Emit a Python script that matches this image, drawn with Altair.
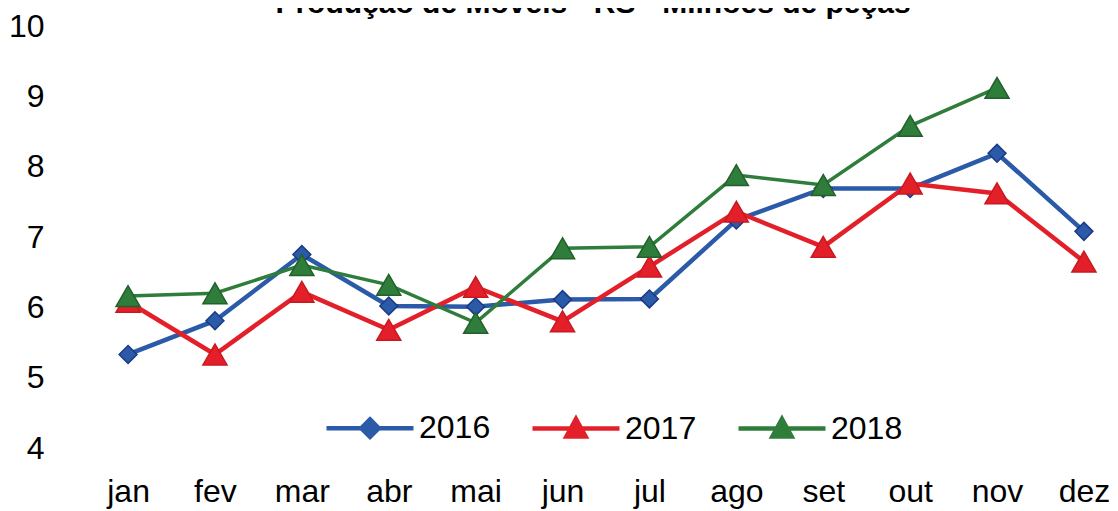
import altair as alt
import pandas as pd

months = ["jan", "fev", "mar", "abr", "mai", "jun", "jul", "ago", "set", "out", "nov", "dez"]
years = ["2016", "2017", "2018"]
v2016 = [5.33, 5.81, 6.75, 6.02, 6.01, 6.11, 6.12, 7.24, 7.69, 7.69, 8.19, 7.08]
v2017 = [6.08, 5.33, 6.22, 5.68, 6.29, 5.80, 6.58, 7.36, 6.86, 7.76, 7.62, 6.65]
v2018 = [6.16, 6.20, 6.60, 6.32, 5.78, 6.84, 6.86, 7.88, 7.74, 8.58, 9.12, None]
y_ticks = [4, 5, 6, 7, 8, 9, 10]
title_text = "Produção de Móveis - RS - Milhões de peças"

colors = ["#2a5aa8", "#e3202a", "#2e7d3a"]
edge = ["#1c3a84", "#c81820", "#23602c"]
widths = [4.5, 4.5, 3.5]
shapes = ["diamond", "triangle-up", "triangle-up"]
sizes = [320, 580, 580]

rows = []
for yr, vals in zip(years, [v2016, v2017, v2018]):
    for m, v in zip(months, vals):
        if v is not None:
            rows.append({"mes": m, "ano": yr, "valor": v})
df = pd.DataFrame(rows)

FONT = "Liberation Sans"

x_enc = alt.X("mes:N", sort=months, title=None,
              scale=alt.Scale(type="point", padding=0.3),
              axis=alt.Axis(labelAngle=0, domain=False, ticks=False, tickSize=0, grid=False,
                            labelFont=FONT, labelFontSize=32, labelColor="#000000",
                            labelPadding=53, labelBaseline="alphabetic"))
y_enc = alt.Y("valor:Q", title=None,
              scale=alt.Scale(domain=[4, 10], nice=False, zero=False),
              axis=alt.Axis(values=y_ticks, domain=False, ticks=False, tickSize=0, grid=False,
                            labelFont=FONT, labelFontSize=32, labelColor="#000000",
                            labelPadding=58, format="d"))

base = alt.Chart(df)

layers = []
for yr, c, e, w, sh, sz in zip(years, colors, edge, widths, shapes, sizes):
    sub = base.transform_filter(alt.datum.ano == yr)
    layers.append(sub.mark_line(color=c, strokeWidth=w).encode(x=x_enc, y=y_enc))
    layers.append(
        sub.mark_point(shape=sh, filled=True, fill=c, stroke=e, strokeWidth=1.5, size=sz, opacity=1)
        .encode(x=x_enc, y=y_enc)
    )

legend_paths = [
    "M-1,0L1,0M0,-0.2L0.2,0L0,0.2L-0.2,0Z",
    "M-1,0L1,0M0,-0.22L0.22,0.18L-0.22,0.18Z",
    "M-1,0L1,0M0,-0.22L0.22,0.18L-0.22,0.18Z",
]
leg = alt.Legend(orient="none", legendX=222, legendY=356, direction="horizontal", title=None,
                 labelFont=FONT, labelFontSize=32, labelColor="#000000",
                 symbolSize=7569, symbolStrokeWidth=4.5, symbolOpacity=1,
                 labelOffset=3, columnPadding=32, padding=0)
legend_layer = base.mark_point(size=0, filled=True, opacity=0).encode(
    x=x_enc, y=y_enc,
    fill=alt.Fill("ano:N", scale=alt.Scale(domain=years, range=colors), legend=leg),
    stroke=alt.Stroke("ano:N", scale=alt.Scale(domain=years, range=colors), legend=leg),
    shape=alt.Shape("ano:N", scale=alt.Scale(domain=years, range=legend_paths), legend=leg),
)
layers.append(legend_layer)

# Title drawn as a text mark so its lower part peeks in at the top edge, as in the reference
title_layer = alt.Chart(pd.DataFrame({"t": [title_text]})).mark_text(
    font=FONT, fontSize=30, fontWeight="bold", color="#000000",
    align="center", baseline="alphabetic"
).encode(text="t:N", x=alt.value(491), y=alt.value(-13))
layers.append(title_layer)

chart = alt.layer(*layers).properties(
    width=1008, height=422,
    autosize=alt.AutoSizeParams(type="none"),
    padding={"left": 94, "top": 18, "right": 0, "bottom": 63},
).configure_view(strokeWidth=0)

chart.save("out.html", embed_options={"renderer": "svg", "actions": False})
